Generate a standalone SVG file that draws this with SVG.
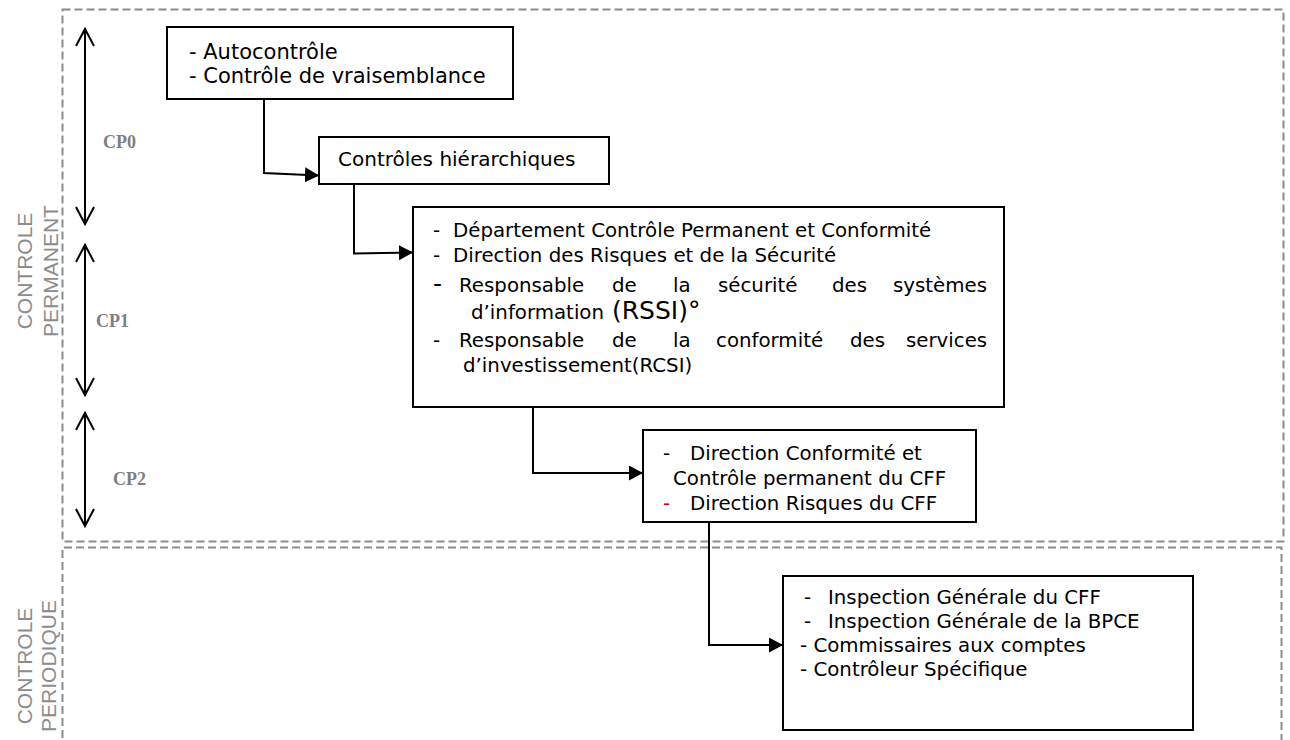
<svg xmlns="http://www.w3.org/2000/svg" width="1290" height="740" viewBox="0 0 1290 740">
<style>
.zone{fill:none;stroke:#8c8c8c;stroke-width:2;stroke-dasharray:8 4}
.box{fill:#fff;stroke:#000;stroke-width:2}
.t{font-family:"DejaVu Sans",Verdana,sans-serif;font-size:19.8px;fill:#000}
.t1{font-size:21px}
.t2{font-size:20px}
.big{font-size:25px}
.cp{font-family:"Liberation Serif","Times New Roman",serif;font-weight:bold;font-size:18px;fill:#7f7f7f}
.zl{font-family:"Liberation Sans",Arial,sans-serif;font-size:21px;fill:#8c8c8c;text-anchor:middle}
.conn{fill:none;stroke:#000;stroke-width:2}
.dbl{fill:none;stroke:#000;stroke-width:2}
</style>
<defs>
<marker id="ah" markerUnits="userSpaceOnUse" markerWidth="14" markerHeight="15" refX="14" refY="7.5" orient="auto">
<path d="M0,0 L14,7.5 L0,15 z" fill="#000"/>
</marker>
</defs>

<g id="zones">
<rect class="zone" x="62.5" y="9.5" width="1221" height="532"/>
<path class="zone" d="M62.5,750 V547.5 H1281.5 V750"/>
<text class="zl" transform="translate(32,271) rotate(-90)">CONTROLE</text>
<text class="zl" transform="translate(58,271) rotate(-90)">PERMANENT</text>
<text class="zl" transform="translate(32,666) rotate(-90)">CONTROLE</text>
<text class="zl" transform="translate(56,666) rotate(-90)">PERIODIQUE</text>
</g>

<g id="levels">
<path class="dbl" d="M85,29 V224 M76,46 L85,29 L94,46 M76,207 L85,224 L94,207"/>
<path class="dbl" d="M85,245 V395 M76,262 L85,245 L94,262 M76,378 L85,395 L94,378"/>
<path class="dbl" d="M85,413 V526 M76,430 L85,413 L94,430 M76,509 L85,526 L94,509"/>
<text class="cp" x="103" y="148">CP0</text>
<text class="cp" x="96" y="327">CP1</text>
<text class="cp" x="113" y="485">CP2</text>
</g>

<g id="connectors">
<path class="conn" d="M264,99 V173 L319,175.5" marker-end="url(#ah)"/>
<path class="conn" d="M354,184 V253.5 L413,252.5" marker-end="url(#ah)"/>
<path class="conn" d="M533,407 V473 H643" marker-end="url(#ah)"/>
<path class="conn" d="M709,522 V645 H783" marker-end="url(#ah)"/>
</g>

<g id="cp0-autocontrole">
<rect class="box" x="167" y="27" width="346" height="72"/>
<text class="t t1" x="189" y="59">- Autocontrôle</text>
<text class="t t1" x="189" y="83">- Contrôle de vraisemblance</text>
</g>

<g id="cp0-hierarchiques">
<rect class="box" x="319" y="137" width="290" height="47"/>
<text class="t t2" x="338" y="166">Contrôles hiérarchiques</text>
</g>

<g id="cp1-departement">
<rect class="box" x="413" y="207" width="591" height="200"/>
<text class="t" y="237"><tspan x="433">-</tspan><tspan x="453">Département Contrôle Permanent et Conformité</tspan></text>
<text class="t" y="262"><tspan x="433">-</tspan><tspan x="453">Direction des Risques et de la Sécurité</tspan></text>
<text class="t" y="292"><tspan class="big" x="433">-</tspan><tspan x="459">Responsable</tspan><tspan x="612">de</tspan><tspan x="673">la</tspan><tspan x="718">sécurité</tspan><tspan x="832">des</tspan><tspan x="893">systèmes</tspan></text>
<text class="t" y="319"><tspan x="471">d’information</tspan><tspan class="big" x="612">(RSSI)°</tspan></text>
<text class="t" y="347"><tspan x="433">-</tspan><tspan x="459">Responsable</tspan><tspan x="612">de</tspan><tspan x="673">la</tspan><tspan x="716">conformité</tspan><tspan x="850">des</tspan><tspan x="906">services</tspan></text>
<text class="t" x="463" y="372">d’investissement(RCSI)</text>
</g>

<g id="cp2-direction">
<rect class="box" x="643" y="430" width="333" height="92"/>
<text class="t" y="460"><tspan x="663">-</tspan><tspan x="690">Direction  Conformité et</tspan></text>
<text class="t" x="673" y="485">Contrôle permanent du CFF</text>
<text class="t" y="510"><tspan x="663" fill="#c00000">-</tspan><tspan x="690">Direction Risques du CFF</tspan></text>
</g>

<g id="periodique-inspection">
<rect class="box" x="783" y="576" width="410" height="154"/>
<text class="t" y="604"><tspan x="804">-</tspan><tspan x="828">Inspection Générale du CFF</tspan></text>
<text class="t" y="628"><tspan x="804">-</tspan><tspan x="828">Inspection Générale de la BPCE</tspan></text>
<text class="t" x="800" y="652">- Commissaires aux comptes</text>
<text class="t" x="800" y="676">- Contrôleur Spécifique</text>
</g>
</svg>
